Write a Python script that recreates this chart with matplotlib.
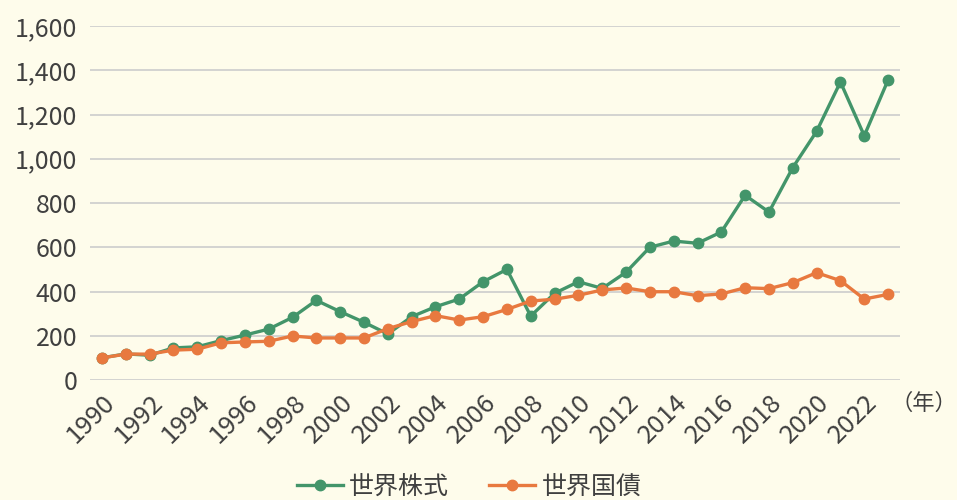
import matplotlib
matplotlib.use("Agg")
import matplotlib.pyplot as plt
from matplotlib.ticker import FuncFormatter

plt.rcParams['font.family'] = ['Noto Sans CJK JP', 'DejaVu Sans']

years = list(range(1990, 2024))
stocks = [100, 118, 112, 145, 150, 178, 203, 230, 283, 360, 309, 261, 208, 286,
          331, 366, 444, 500, 289, 392, 444, 414, 487, 600, 628, 618, 669, 835,
          759, 960, 1124, 1347, 1104, 1356]
bonds = [100, 117, 117, 135, 139, 168, 172, 175, 199, 190, 190, 190, 232, 264,
         291, 271, 286, 319, 357, 365, 383, 407, 416, 399, 399, 381, 389, 417,
         413, 440, 485, 449, 366, 387]
series_names = ['世界株式', '世界国債']
yticks = [0, 200, 400, 600, 800, 1000, 1200, 1400, 1600]

bg = '#FEFCEB'
green = '#43956A'
orange = '#E8793F'
txt = '#404040'

fig = plt.figure(figsize=(9.57, 5.0), dpi=100, facecolor=bg)
ax = fig.add_axes([90/957, 120/500, 810/957, 354/500], facecolor=bg)

x = list(range(len(years)))
ax.plot(x, stocks, color=green, lw=2.4, marker='o', ms=7.5, label=series_names[0], zorder=3)
ax.plot(x, bonds, color=orange, lw=2.4, marker='o', ms=7.5, label=series_names[1], zorder=4)

ax.set_xlim(-0.5, len(years) - 0.5)
ax.set_ylim(0, 1600)
ax.set_yticks(yticks)
ax.yaxis.set_major_formatter(FuncFormatter(lambda v, p: f'{int(v):,}'))
ax.grid(axis='y', color='#CCCCCC', lw=1.2)
ax.set_axisbelow(True)
for s in ax.spines.values():
    s.set_visible(False)
ax.tick_params(axis='both', length=0, colors=txt)
ax.tick_params(axis='y', pad=9, labelsize=18)

ax.set_xticks(x[::2])
ax.set_xticklabels([str(y) for y in years[::2]], rotation=45, ha='right',
                   rotation_mode='anchor', fontsize=18.5, color=txt)
ax.tick_params(axis='x', pad=7)

fig.text(1.0, 1 - 403/500, '（年）', ha='right', va='center', fontsize=16, color=txt)

leg = fig.legend(loc='center', bbox_to_anchor=(469/957, 1 - 487/500), ncol=2, frameon=False,
                 fontsize=18, labelcolor=txt, handlelength=1.85, columnspacing=1.6,
                 handletextpad=0.25)

fig.savefig('out.png', dpi=100, facecolor=bg)
